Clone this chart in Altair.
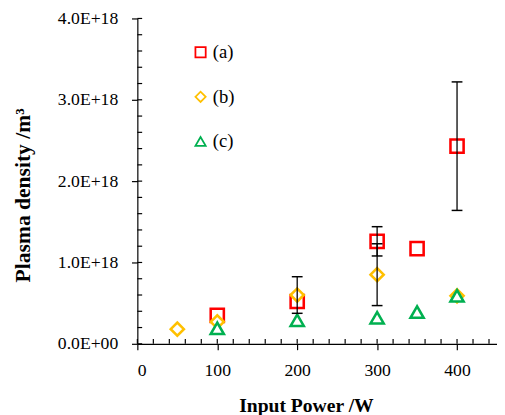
import altair as alt
import pandas as pd

# ---- data ----
power_a = [100, 200, 300, 350, 400]
dens_a = [0.35e18, 0.52e18, 1.26e18, 1.17e18, 2.43e18]
err_a = [None, None, 0.18e18, None, 0.79e18]

power_b = [50, 100, 200, 300, 400]
dens_b = [0.18e18, 0.27e18, 0.60e18, 0.85e18, 0.59e18]
err_b = [None, None, 0.225e18, 0.38e18, None]

power_c = [100, 200, 300, 350, 400]
dens_c = [0.19e18, 0.29e18, 0.32e18, 0.39e18, 0.59e18]

series_names = ["(a)", "(b)", "(c)"]
series_colors = ["#FF0000", "#FFC000", "#00B050"]
series_shapes = ["square", "diamond", "triangle-up"]

x_major = [0, 100, 200, 300, 400]
x_minor = list(range(0, 460, 20))
y_major = [0, 1e18, 2e18, 3e18, 4e18]
y_minor = [round(i * 0.2, 1) * 1e18 for i in range(0, 21)]

# inward length of the minor ticks, in data units of the other axis
X_TICK_LEN = 0.06e18
Y_TICK_LEN = 6.0

rows = []
for name, xs, ys, es in [("(a)", power_a, dens_a, err_a),
                         ("(b)", power_b, dens_b, err_b),
                         ("(c)", power_c, dens_c, [None] * len(power_c))]:
    for x, y, e in zip(xs, ys, es):
        rows.append({"series": name, "power": x, "density": y,
                     "lo": (y - e) if e else None, "hi": (y + e) if e else None})
df = pd.DataFrame(rows)
err_df = df.dropna(subset=["lo"])

xminor_df = pd.DataFrame({"power": x_minor,
                          "density": [0.0] * len(x_minor),
                          "dtop": [X_TICK_LEN] * len(x_minor)})
yminor_df = pd.DataFrame({"power": [0.0] * len(y_minor),
                          "pend": [Y_TICK_LEN] * len(y_minor),
                          "density": y_minor})

FONT = "Liberation Serif"

xscale = alt.Scale(domain=[0, 450], nice=False, zero=False)
yscale = alt.Scale(domain=[0, 4e18], nice=False)

x_main = alt.X("power:Q", scale=xscale, axis=alt.Axis(
    orient="bottom",
    values=x_major, tickSize=6, tickColor="black", domainColor="black",
    domainWidth=1.2, tickWidth=1.2, labelFont=FONT, labelFontSize=18,
    labelColor="black", labelPadding=12, grid=False,
    title="Input Power /W", titleFont=FONT, titleFontSize=20,
    titleFontWeight="bold", titleColor="black", titleX=172, titleY=69,
    titleBaseline="alphabetic", titleAnchor="middle"))

y_main = alt.Y("density:Q", scale=yscale, axis=alt.Axis(
    orient="left",
    values=y_major, tickSize=6, tickColor="black", domainColor="black",
    domainWidth=1.2, tickWidth=1.2, labelFont=FONT, labelFontSize=18,
    labelColor="black", labelPadding=14, grid=False,
    labelExpr="datum.value == 0 ? '0.0E+00' : format(datum.value / 1e18, '.1f') + 'E+18'",
    title="Plasma density /m³", titleFont=FONT, titleFontSize=22,
    titleFontWeight="bold", titleColor="black", titleX=-117, titleY=180,
    titleAngle=270, titleBaseline="middle", titleAlign="center"))

# inward minor ticks (rules standing on the axes)
xminor = alt.Chart(xminor_df).mark_rule(color="black", strokeWidth=1.2).encode(
    x=alt.X("power:Q", scale=xscale),
    y=alt.Y("density:Q", scale=yscale),
    y2="dtop:Q")
yminor = alt.Chart(yminor_df).mark_rule(color="black", strokeWidth=1.2).encode(
    x=alt.X("power:Q", scale=xscale),
    x2="pend:Q",
    y=alt.Y("density:Q", scale=yscale))

# error bars (whiskers + caps)
whisk = alt.Chart(err_df).mark_rule(color="black", strokeWidth=1.3).encode(
    x=alt.X("power:Q", scale=xscale),
    y=alt.Y("lo:Q", scale=yscale),
    y2="hi:Q",
)
cap_lo = alt.Chart(err_df).mark_tick(color="black", orient="horizontal", opacity=1,
                                     size=11, thickness=1.5).encode(
    x=alt.X("power:Q", scale=xscale),
    y=alt.Y("lo:Q", scale=yscale))
cap_hi = alt.Chart(err_df).mark_tick(color="black", orient="horizontal", opacity=1,
                                     size=11, thickness=1.5).encode(
    x=alt.X("power:Q", scale=xscale),
    y=alt.Y("hi:Q", scale=yscale))

leg = alt.Legend(
    title=None, orient="none", legendX=55, legendY=25,
    labelFont=FONT, labelFontSize=19, labelColor="black",
    symbolSize=110, symbolStrokeWidth=1.8,
    symbolFillColor="white", rowPadding=25.5,
    labelOffset=3, padding=0)

points = alt.Chart(df).mark_point(filled=True, fill="white", strokeWidth=2.6,
                                  opacity=1, size=180).encode(
    x=x_main,
    y=y_main,
    stroke=alt.Stroke("series:N", scale=alt.Scale(domain=series_names, range=series_colors),
                      legend=leg),
    shape=alt.Shape("series:N", scale=alt.Scale(domain=series_names, range=series_shapes),
                    legend=leg),
    order=alt.Order("series:N"),
)

chart = alt.layer(points, xminor, yminor, whisk, cap_lo, cap_hi).properties(
    width=367, height=332,
    autosize=alt.AutoSizeParams(type="none"),
    padding={"left": 132, "top": 6.5, "right": 0, "bottom": 70},
    background="white",
).configure_view(stroke=None).configure_axis(
    labelFont=FONT, titleFont=FONT
).configure_legend(labelFont=FONT)

chart.save("out.html", embed_options={"renderer": "svg", "actions": False})
